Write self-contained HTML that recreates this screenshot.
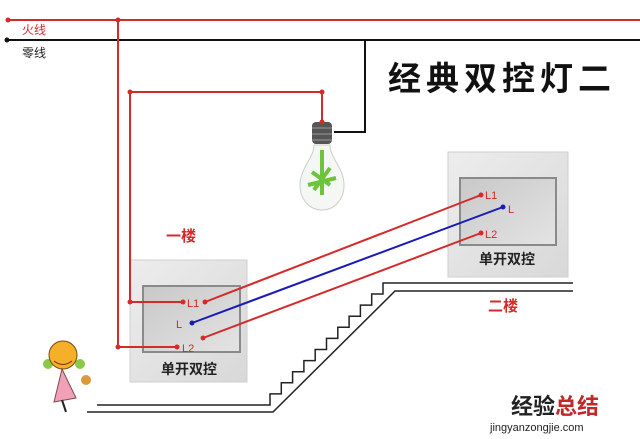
<!DOCTYPE html>
<html><head><meta charset="utf-8"><style>
html,body{margin:0;padding:0;background:#fff;}
svg{display:block;}
text{font-family:"Liberation Sans","Noto Sans CJK SC",sans-serif;}
</style></head><body>
<svg width="640" height="439" viewBox="0 0 640 439" xmlns="http://www.w3.org/2000/svg">
<defs>
<linearGradient id="plate" x1="0" y1="0" x2="1" y2="1"><stop offset="0" stop-color="#ededed"/><stop offset="1" stop-color="#d8d8d8"/></linearGradient>
<linearGradient id="inner" x1="0" y1="0" x2="1" y2="1"><stop offset="0" stop-color="#c8c8c8"/><stop offset="1" stop-color="#e4e4e4"/></linearGradient>
</defs>
<rect width="640" height="439" fill="#fff"/>
<!-- left switch -->
<rect x="130" y="260" width="117" height="122" fill="url(#plate)" stroke="#cfcfcf"/>
<rect x="143" y="286" width="97" height="66" fill="url(#inner)" stroke="#8a8a8a" stroke-width="2"/>
<text x="189" y="374" font-size="14" font-weight="bold" fill="#222" text-anchor="middle">单开双控</text>
<!-- right switch -->
<rect x="448" y="152" width="120" height="125" fill="url(#plate)" stroke="#cfcfcf"/>
<rect x="460" y="178" width="96" height="67" fill="url(#inner)" stroke="#8a8a8a" stroke-width="2"/>
<text x="507" y="264" font-size="14" font-weight="bold" fill="#222" text-anchor="middle">单开双控</text>
<!-- mains -->
<line x1="8" y1="20" x2="640" y2="20" stroke="#d42a2a" stroke-width="2"/>
<circle cx="8" cy="20" r="2.5" fill="#d42a2a"/><circle cx="118" cy="20" r="2.5" fill="#d42a2a"/>
<line x1="7" y1="40" x2="640" y2="40" stroke="#111" stroke-width="2"/>
<circle cx="7" cy="40" r="2.5" fill="#111"/>
<text x="22" y="34" font-size="12" fill="#d42a2a">火线</text>
<text x="22" y="57" font-size="12" fill="#222">零线</text>
<!-- neutral to bulb -->
<polyline points="365,40 365,132 334,132" fill="none" stroke="#111" stroke-width="2"/>
<!-- red verticals -->
<polyline points="118,20 118,347 177,347" fill="none" stroke="#d42a2a" stroke-width="2"/>
<polyline points="322,122 322,92 130,92 130,302 183,302" fill="none" stroke="#d42a2a" stroke-width="2"/>
<circle cx="322" cy="92" r="2.5" fill="#d42a2a"/><circle cx="130" cy="92" r="2.5" fill="#d42a2a"/>
<circle cx="130" cy="302" r="2.5" fill="#d42a2a"/><circle cx="118" cy="347" r="2.5" fill="#d42a2a"/>
<!-- title -->
<text x="388" y="90" font-size="33" font-weight="bold" fill="#111" letter-spacing="5">经典双控灯二</text>
<!-- bulb -->
<rect x="312" y="122" width="20" height="22" rx="4" fill="#555"/>
<line x1="312" y1="128" x2="332" y2="128" stroke="#999"/><line x1="312" y1="134" x2="332" y2="134" stroke="#999"/><line x1="312" y1="140" x2="332" y2="140" stroke="#999"/>
<circle cx="322" cy="122" r="2.5" fill="#d42a2a"/>
<path d="M314 145 C314 158 300 168 300 185 C300 200 310 210 322 210 C334 210 344 200 344 185 C344 168 330 158 330 145 Z" fill="#f4f7f4" stroke="#c8cfc8"/>
<path d="M322 150 L322 195 M312 172 L330 185 M330 168 L314 190 M308 185 L336 178" stroke="#6cc43a" stroke-width="4" fill="none"/>
<!-- switch labels -->
<text x="187" y="307" font-size="11" fill="#d42a2a">L1</text>
<text x="176" y="328" font-size="11" fill="#d42a2a">L</text>
<text x="182" y="352" font-size="11" fill="#d42a2a">L2</text>
<circle cx="183" cy="302" r="2.5" fill="#d42a2a"/><circle cx="177" cy="347" r="2.5" fill="#d42a2a"/>
<text x="485" y="199" font-size="11" fill="#d42a2a">L1</text>
<text x="508" y="213" font-size="11" fill="#d42a2a">L</text>
<text x="485" y="238" font-size="11" fill="#d42a2a">L2</text>
<!-- travellers -->
<line x1="205" y1="302" x2="481" y2="195" stroke="#d42a2a" stroke-width="2"/>
<line x1="192" y1="323" x2="503" y2="207" stroke="#1a1ab8" stroke-width="2"/>
<line x1="203" y1="338" x2="481" y2="233" stroke="#d42a2a" stroke-width="2"/>
<circle cx="205" cy="302" r="2.5" fill="#d42a2a"/><circle cx="481" cy="195" r="2.5" fill="#d42a2a"/>
<circle cx="192" cy="323" r="2.5" fill="#1a1ab8"/><circle cx="503" cy="207" r="2.5" fill="#1a1ab8"/>
<circle cx="203" cy="338" r="2.5" fill="#d42a2a"/><circle cx="481" cy="233" r="2.5" fill="#d42a2a"/>
<!-- floor labels -->
<text x="166" y="241" font-size="15" font-weight="bold" fill="#d42a2a">一楼</text>
<text x="488" y="311" font-size="15" font-weight="bold" fill="#d42a2a">二楼</text>
<!-- stairs -->
<path d="M97 405 H270 v-11.1 h11.3 v-11.1 h11.3 v-11.1 h11.3 v-11.1 h11.3 v-11.1 h11.3 v-11.1 h11.3 v-11.1 h11.3 v-11.1 h11.3 v-11.1 h11.3 v-11.1 h11.3 v-11 H573" fill="none" stroke="#222" stroke-width="1.5"/>
<polyline points="87,412 273,412 395,291 573,291" fill="none" stroke="#222" stroke-width="1.5"/>
<!-- girl -->
<circle cx="48" cy="364" r="5" fill="#8cc84a"/><circle cx="80" cy="364" r="5" fill="#8cc84a"/>
<circle cx="63" cy="355" r="14" fill="#f5b02a" stroke="#7a4a10"/>
<path d="M54 361 Q63 368 72 361" stroke="#7a2a10" fill="none"/>
<path d="M62 369 L54 402 L76 398 Z" fill="#f2a0b8" stroke="#7a4a50"/>
<line x1="62" y1="400" x2="66" y2="412" stroke="#222" stroke-width="2"/>
<circle cx="86" cy="380" r="5" fill="#d89a3a"/>
<!-- watermark -->
<text x="511" y="414" font-size="22" font-weight="bold" fill="#222">经验<tspan fill="#c0282a">总结</tspan></text>
<text x="490" y="431" font-size="11" font-family="Liberation Mono, monospace" fill="#222">jingyanzongjie.com</text>
</svg>
</body></html>
